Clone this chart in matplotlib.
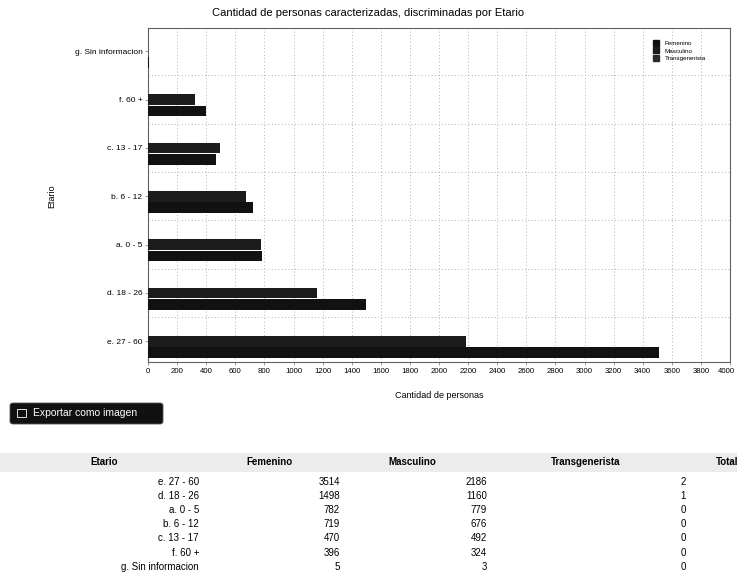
import matplotlib
matplotlib.use("Agg")
import matplotlib.pyplot as plt
import matplotlib.transforms as mtransforms
from matplotlib.patches import Rectangle, FancyBboxPatch
from matplotlib.lines import Line2D

etarios = ["e. 27 - 60", "d. 18 - 26", "a. 0 - 5", "b. 6 - 12",
           "c. 13 - 17", "f. 60 +", "g. Sin informacion"]
femenino = [3514, 1498, 782, 719, 470, 396, 5]
masculino = [2186, 1160, 779, 676, 492, 324, 3]
transgenerista = [2, 1, 0, 0, 0, 0, 0]
series = ["Femenino", "Masculino", "Transgenerista"]
xticks = list(range(0, 4001, 200))

W, H = 737, 581
plt.rcParams['font.family'] = ['Liberation Sans', 'DejaVu Sans']

fig = plt.figure(figsize=(W / 100, H / 100), dpi=100)
fig.patch.set_facecolor('white')


def fx(x):
    return x / W


def fy(y):
    return 1 - y / H


# Area del grafico
ax = fig.add_axes([fx(148), fy(362), fx(730) - fx(148), fy(28) - fy(362)])

pos = list(range(len(etarios)))
alto = 0.22
paso = 0.235
colores = ['#111111', '#1c1c1c', '#2a2a2a']

ax.barh([p - paso for p in pos], femenino, height=alto, color=colores[0], zorder=3)
ax.barh(pos, masculino, height=alto, color=colores[1], zorder=3)
ax.barh([p + paso for p in pos], transgenerista, height=alto, color=colores[2], zorder=3)

ax.set_xlim(0, 4000)
ax.set_ylim(-0.43, 6.48)
ax.set_xticks(xticks)
ax.set_xticklabels([str(t) for t in xticks], fontsize=5.6)
ax.set_yticks(pos)
ax.set_yticklabels(etarios, fontsize=6)
ax.tick_params(axis='both', length=2, width=0.5, color='#777777', pad=2)

# la ultima etiqueta queda pegada al borde: se corre un poco a la izquierda
ultima = ax.get_xticklabels()[-1]
ultima.set_transform(ultima.get_transform() +
                     mtransforms.ScaledTranslation(-4 / 100, 0, fig.dpi_scale_trans))

# Rejilla punteada
for t in xticks[1:-1]:
    ax.axvline(t, color='#9a9a9a', lw=0.6, ls=(0, (1, 3)), zorder=1)
for p in pos[:-1]:
    ax.axhline(p + 0.5, color='#9a9a9a', lw=0.6, ls=(0, (1, 3)), zorder=1)

for s in ax.spines.values():
    s.set_color('#606060')
    s.set_linewidth(0.8)

handles = [Line2D([], [], marker='s', ls='', color=c, markersize=4) for c in colores]
ax.legend(handles, series, loc='upper left', bbox_to_anchor=(0.855, 0.975),
          fontsize=4.5, frameon=False, handletextpad=0.3, labelspacing=0.35,
          borderpad=0.2)

fig.text(0.5, fy(13), "Cantidad de personas caracterizadas, discriminadas por Etario",
         ha='center', va='center', fontsize=8)
fig.text(fx(439), fy(395), "Cantidad de personas", ha='center', va='center', fontsize=6.5)
fig.text(fx(52), fy(196), "Etario", ha='center', va='center', fontsize=6.5, rotation=90)

# Boton "Exportar como imagen"
boton = FancyBboxPatch((fx(10), fy(424)), fx(153), fy(403) - fy(424),
                       boxstyle="round,pad=0,rounding_size=0.004",
                       transform=fig.transFigure, facecolor='#111111',
                       edgecolor='#555555', lw=0.6)
fig.patches.append(boton)
icono = Rectangle((fx(17), fy(417)), fx(9), fy(409) - fy(417),
                  transform=fig.transFigure, facecolor='none',
                  edgecolor='white', lw=0.6)
fig.patches.append(icono)
fig.text(fx(33), fy(413.5), "Exportar como imagen", color='white',
         ha='left', va='center', fontsize=7.5)

# Tabla
banda = Rectangle((0, fy(472)), 1, fy(453) - fy(472), transform=fig.transFigure,
                  facecolor='#ececec', edgecolor='none')
fig.patches.append(banda)

encabezados = [("Etario", 104), ("Femenino", 269), ("Masculino", 412),
               ("Transgenerista", 586)]
for txt, x in encabezados:
    fig.text(fx(x), fy(462), txt, ha='center', va='center', fontsize=7,
             fontweight='bold')
fig.text(fx(716), fy(462), "Total", ha='left', va='center', fontsize=7,
         fontweight='bold')

fila0 = 482
salto = 14.1
for i, et in enumerate(etarios):
    y = fy(fila0 + i * salto)
    fig.text(fx(199), y, et, ha='right', va='center', fontsize=7)
    fig.text(fx(340), y, str(femenino[i]), ha='right', va='center', fontsize=7)
    fig.text(fx(487), y, str(masculino[i]), ha='right', va='center', fontsize=7)
    fig.text(fx(686), y, str(transgenerista[i]), ha='right', va='center', fontsize=7)

fig.savefig("out.png", dpi=100)
